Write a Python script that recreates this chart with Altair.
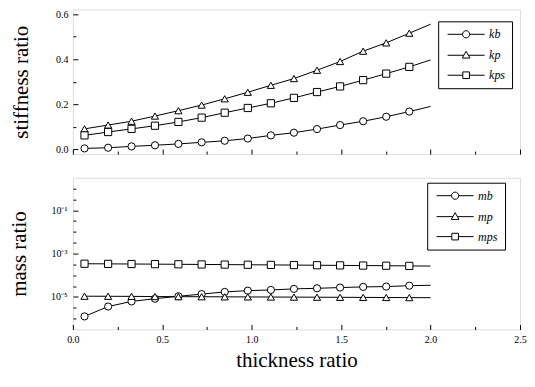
import altair as alt
import pandas as pd

# ---------------- data ----------------
x_marks = [0.065, 0.197, 0.328, 0.459, 0.590, 0.720, 0.849, 0.978,
           1.107, 1.236, 1.365, 1.494, 1.623, 1.752, 1.881]
x_end = 2.0

k_series = ["k_b", "k_p", "k_ps"]
k_labels = ["kb", "kp", "kps"]
k_b = [0.003, 0.006, 0.012, 0.017, 0.023, 0.030, 0.037, 0.047,
       0.061, 0.073, 0.089, 0.107, 0.124, 0.144, 0.167]
k_p = [0.090, 0.107, 0.124, 0.147, 0.171, 0.196, 0.224, 0.253,
       0.284, 0.314, 0.351, 0.390, 0.436, 0.473, 0.516]
k_ps = [0.061, 0.076, 0.090, 0.104, 0.121, 0.140, 0.162, 0.183,
        0.204, 0.228, 0.254, 0.279, 0.307, 0.336, 0.366]
k_end = [0.190, 0.556, 0.397]

m_series = ["m_b", "m_p", "m_ps"]
m_labels = ["mb", "mp", "mps"]
m_b = [1.26e-6, 3.6e-6, 6.2e-6, 8.3e-6, 1.07e-5, 1.35e-5, 1.70e-5, 1.95e-5,
       2.10e-5, 2.35e-5, 2.50e-5, 2.70e-5, 2.90e-5, 3.00e-5, 3.30e-5]
m_p = [1.08e-5, 1.07e-5, 1.06e-5, 1.04e-5, 1.03e-5, 1.02e-5, 1.01e-5, 1.00e-5,
       0.99e-5, 0.98e-5, 0.97e-5, 0.96e-5, 0.95e-5, 0.94e-5, 0.93e-5]
m_ps = [3.40e-4, 3.35e-4, 3.30e-4, 3.25e-4, 3.20e-4, 3.15e-4, 3.10e-4, 3.05e-4,
        3.00e-4, 2.95e-4, 2.90e-4, 2.85e-4, 2.80e-4, 2.75e-4, 2.70e-4]
m_end = [3.45e-5, 0.92e-5, 2.65e-4]

x_major = [0.0, 0.5, 1.0, 1.5, 2.0, 2.5]
x_minor = [0.25, 0.75, 1.25, 1.75, 2.25]
k_major = [0.0, 0.2, 0.4, 0.6]
k_minor = [0.1, 0.3, 0.5]
m_major = [1e-1, 1e-3, 1e-5]
m_major_labels = ["10⁻¹", "10⁻³", "10⁻⁵"]
m_minor = [1e0, 10 ** -0.5, 1e-2, 10 ** -1.5, 10 ** -2.5, 1e-4, 10 ** -3.5,
           10 ** -4.5, 1e-6, 10 ** -5.5, 10 ** -6.0]


def frames(series, arrays, ends):
    pts, lines = [], []
    for s, arr, e in zip(series, arrays, ends):
        for xv, yv in zip(x_marks, arr):
            pts.append({"series": s, "x": xv, "y": yv})
            lines.append({"series": s, "x": xv, "y": yv})
        lines.append({"series": s, "x": x_end, "y": e})
    return pd.DataFrame(lines), pd.DataFrame(pts)


k_lines, k_pts = frames(k_series, [k_b, k_p, k_ps], k_end)
m_lines, m_pts = frames(m_series, [m_b, m_p, m_ps], m_end)

SERIF = "Liberation Serif"

# legend symbols: a line with the marker drawn in the middle (unit = 3.5 px)
leg_circle = ("M-5.3,0H-1.03M1.03,0H5.3"
              "M1.03,0A1.03,1.03 0 1,1 -1.03,0A1.03,1.03 0 1,1 1.03,0Z")
leg_tri = "M-5.3,0H-0.65M0.65,0H5.3M0,-1.15L1.1,0.8L-1.1,0.8Z"
leg_sq = "M-5.3,0H-0.95M0.95,0H5.3M-0.95,-0.95H0.95V0.95H-0.95Z"


def tick_axis(orient, values, size, labels=False, **kw):
    args = dict(values=values, orient=orient, tickSize=size, offset=-size,
                domain=False, grid=False, labels=labels, ticks=True,
                tickColor="black", tickWidth=1, labelFlush=False)
    if "title" not in kw:
        args["title"] = None
    args.update(kw)
    return alt.Axis(**args)


def panel(lines, pts, series, labels, yscale, y_axis_major, y_axis_minor,
          x_axis_major, height, legx, legy):
    xscale = alt.Scale(domain=[0, 2.5], nice=False, zero=False)
    line_layer = alt.Chart(lines).mark_line(color="black", strokeWidth=1).encode(
        x=alt.X("x:Q", scale=xscale, axis=x_axis_major),
        y=alt.Y("y:Q", scale=yscale, axis=y_axis_major),
        detail="series:N",
    )
    pt_layer = alt.Chart(pts).mark_point(
        filled=True, fill="white", stroke="black", strokeWidth=1, size=52, opacity=1
    ).encode(
        x=alt.X("x:Q", scale=xscale, axis=tick_axis("bottom", x_minor, 3)),
        y=alt.Y("y:Q", scale=yscale, axis=y_axis_minor),
        shape=alt.Shape("series:N",
                        scale=alt.Scale(domain=series,
                                        range=["circle", "triangle-up", "square"]),
                        legend=None),
    )
    label_expr = " : ".join(
        f"datum.value == '{s}' ? '{l}'" for s, l in zip(series, labels)
    ) + " : ''"
    leg_layer = alt.Chart(pts).transform_filter("false").mark_point(
        filled=False, color="black", strokeWidth=1, opacity=1
    ).encode(
        x=alt.X("x:Q", scale=xscale, axis=None),
        y=alt.Y("y:Q", scale=yscale, axis=None),
        shape=alt.Shape(
            "series:N",
            scale=alt.Scale(domain=series, range=[leg_circle, leg_tri, leg_sq]),
            legend=alt.Legend(
                title=None, orient="none", legendX=legx, legendY=legy,
                symbolSize=49, symbolStrokeWidth=1, symbolOffset=15,
                symbolStrokeColor="black", symbolOpacity=1,
                labelFont=SERIF, labelFontSize=12, labelFontStyle="italic",
                labelColor="black", labelOffset=17, labelExpr=label_expr,
                strokeColor="black", fillColor="white", padding=7,
                rowPadding=8,
            ),
        ),
    )
    return alt.layer(line_layer, pt_layer, leg_layer).properties(
        width=448, height=height
    ).resolve_scale(shape="independent").resolve_axis(x="independent", y="independent")


k_yscale = alt.Scale(domain=[-0.0222, 0.6222], nice=False, zero=False)
top = panel(
    k_lines, k_pts, k_series, k_labels, k_yscale,
    tick_axis("left", k_major, 5, labels=True, format=".1f", labelPadding=5,
              labelFont=SERIF, labelFontSize=10, labelColor="black",
              title="stiffness ratio", titleFont=SERIF, titleFontSize=21,
              titleFontWeight="normal", titleColor="black", titlePadding=24),
    tick_axis("left", k_minor, 3),
    tick_axis("bottom", x_major, 5),
    145, 366, 12,
)

m_yscale = alt.Scale(type="log", domain=[10 ** -6.5, 10 ** 0.5], nice=False)
m_label_expr = " : ".join(
    f"datum.value > {v * 0.5} ? '{l}'" for v, l in zip(m_major, m_major_labels)
) + " : ''"
bottom = panel(
    m_lines, m_pts, m_series, m_labels, m_yscale,
    tick_axis("left", m_major, 5, labels=True, labelExpr=m_label_expr,
              labelPadding=6, labelFont=SERIF, labelFontSize=10, labelColor="black",
              title="mass ratio", titleFont=SERIF, titleFontSize=21,
              titleFontWeight="normal", titleColor="black", titlePadding=21),
    tick_axis("left", m_minor, 3),
    tick_axis("bottom", x_major, 5, labels=True, format=".1f", labelPadding=5,
              labelFont=SERIF, labelFontSize=10, labelColor="black",
              title="thickness ratio", titleFont=SERIF, titleFontSize=21,
              titleFontWeight="normal", titleColor="black", titlePadding=5),
    152, 355, 5,
)

chart = alt.vconcat(top, bottom, spacing=21.7).properties(
    padding={"left": 0, "top": 0, "right": 0, "bottom": 0}
).configure_view(stroke="black", strokeWidth=1.5).configure(background="white")

chart.save("out.html", embed_options={"renderer": "svg", "actions": False})
